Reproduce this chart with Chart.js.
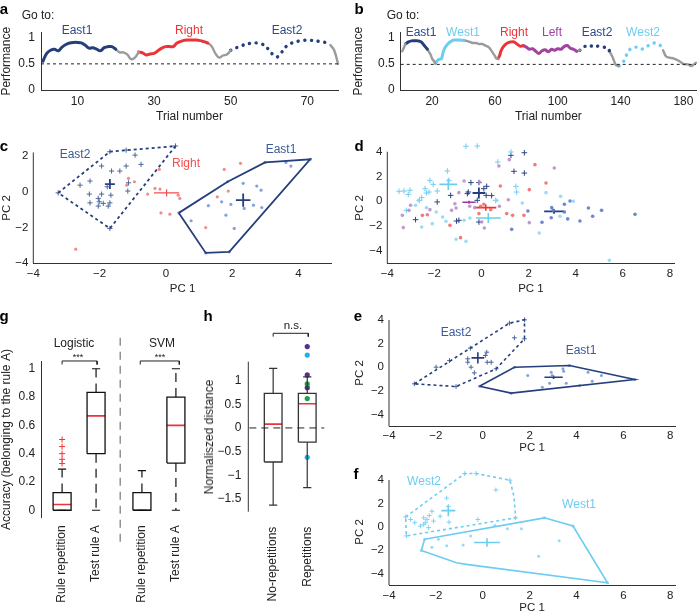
<!DOCTYPE html>
<html>
<head>
<meta charset="utf-8">
<script src="https://cdn.jsdelivr.net/npm/chart.js@4/dist/chart.umd.min.js"></script>
<style>
  body { margin: 0; background: #fff; }
  #fig { position: relative; width: 698px; height: 614px; overflow: hidden; font-family: 'Liberation Sans', Arial, sans-serif; color: #222; }
  #fig canvas { position: absolute; }
  .t { position: absolute; white-space: nowrap; font-size: 12px; line-height: 1; transform: translate(-50%, -50%); }
</style>
</head>
<body>
<div id="fig"></div>
<script>
const FONT = "'Liberation Sans', Arial, sans-serif";
const fig = document.getElementById('fig');

// ---- panel a: performance per trial (trials 1..78)
const perfA = [0.55,0.70,0.76,0.78,0.75,0.82,0.87,0.90,0.91,0.91,
  0.90,0.86,0.80,0.81,0.78,0.75,0.81,0.83,0.83,0.78,
  0.72,0.72,0.68,0.59,0.62,0.73,0.71,0.67,0.69,0.70,
  0.75,0.80,0.83,0.83,0.83,0.90,0.93,0.95,0.955,0.955,
  0.955,0.945,0.925,0.90,0.84,0.70,0.62,0.66,0.68,0.76,
  0.80,0.82,0.85,0.88,0.89,0.90,0.90,0.88,0.85,0.76,
  0.68,0.63,0.69,0.80,0.86,0.90,0.92,0.94,0.95,0.955,
  0.95,0.94,0.93,0.92,0.90,0.86,0.76,0.50];
const rulesA = [['East1',1,20],['gap',20,26],['Right',26,44],['gap',44,50],['East2',50,76],['gap',76,78]];
const ticksAX = [10, 30, 50, 70];

// ---- panel b
const trialsB = [1,3,5,7,9,11,13,15,17,18,19,20,21,22,23,24,25,26,27,28,30,32,34,37,40,42,44,46,48,50,
  52,54,56,58,60,61,62,63,64,66,68,70,72,74,76,77,78,80,82,84,86,88,90,92,94,96,98,100,102,104,
  106,108,110,112,114,116,118,120,123,126,129,132,133,135,137,139,141,143,145,147,150,153,156,159,162,165,167,169,171,174,
  177,180,183,185,188];
const perfB = [0.74,0.88,0.92,0.94,0.94,0.94,0.92,0.85,0.78,0.73,0.68,0.60,0.56,0.51,0.55,0.58,0.59,0.60,0.72,0.80,
  0.88,0.93,0.955,0.955,0.95,0.94,0.92,0.90,0.90,0.88,0.88,0.85,0.82,0.74,0.65,0.60,0.60,0.66,0.76,0.85,
  0.90,0.92,0.92,0.88,0.84,0.84,0.85,0.82,0.78,0.79,0.74,0.70,0.75,0.77,0.73,0.78,0.76,0.79,0.78,0.83,
  0.85,0.80,0.78,0.74,0.76,0.82,0.84,0.86,0.82,0.84,0.82,0.80,0.74,0.62,0.48,0.46,0.50,0.62,0.74,0.80,
  0.82,0.78,0.82,0.87,0.90,0.86,0.76,0.64,0.62,0.60,0.56,0.50,0.49,0.46,0.52];
const rulesB = [['gap',1,3],['East1',3,17],['gap',17,22],['West1',22,40],['gap',40,62],['Right',62,78],['Left',78,112],
  ['gap',112,114],['East2',114,133],['gap',133,139],['West2',139,167],['gap',167,188]];
const ticksBX = [20, 60, 100, 140, 180];

// ---- panel c (PC1, PC2)
const cEast2 = [[-1.69,2.24],[-1.20,2.33],[-0.93,2.05],[-1.94,1.44],[-1.20,1.44],[-0.75,1.53],[-1.64,1.16],[-1.39,1.16],
  [-2.29,0.60],[-2.59,0.37],[-1.13,0.50],[-1.77,0.28],[-1.15,0.04],[-2.31,-0.13],[-1.94,-0.13],[-2.04,-0.37],[-1.66,-0.19],
  [-2.01,-0.56],[-2.29,-0.62],[-1.89,-0.65],[-1.69,-0.62],[-2.04,-0.80],[-1.74,-0.80],[-3.25,-0.06],[-1.69,-2.05],[0.29,2.56]];
const cEast2Hull = [[-3.25,-0.06],[-1.69,2.24],[0.29,2.56],[-1.69,-2.05]];
const cEast2Mean = [-1.69, 0.43, 0.15, 0.28];
const cRight = [[2.25,1.59],[1.76,1.25],[-0.20,1.25],[-1.13,0.75],[-0.95,0.56],[-1.18,0.37],[-0.33,0.19],[-0.18,0.15],
  [1.88,0.04],[-0.55,-0.13],[0.37,-0.19],[0.42,-0.37],[1.55,-0.28],[-0.15,-1.18],[0.12,-1.25],[1.20,-2.00],[-2.72,-3.21]];
const cRightMean = [0.02, -0.06, 0.38, 0.2];
const cEast1 = [[2.33,0.47],[2.74,0.32],[2.87,0.09],[3.62,1.64],[3.77,1.44],[4.35,1.81],[2.99,1.64],[1.86,0.56],[1.68,-0.56],
  [1.96,-0.71],[1.28,-0.78],[2.36,-0.93],[2.64,-0.75],[2.89,-0.88],[1.81,-1.31],[0.76,-1.62],[2.06,-2.05],[0.39,-1.18],[1.20,-3.42],[1.91,-3.36]];
const cEast1Hull = [[0.39,-1.18],[1.86,0.56],[2.99,1.64],[4.35,1.81],[1.91,-3.36],[1.20,-3.42]];
const cEast1Mean = [2.33, -0.47, 0.22, 0.37];

// ---- panel d
const dEast2 = [[1.25,3.71],[1.82,3.92],[1.38,2.42],[1.82,2.28],[-0.45,1.51],[-0.11,1.51],[0.22,1.21],[0.10,1.02],[-0.56,0.75],
  [-0.60,0.62],[0.20,0.48],[0.43,0.46],[-1.31,0.48],[-1.88,-0.05],[-0.18,0.08],[-2.80,-1.48],[-1.06,-1.59],[-0.96,-1.53],[-0.11,-1.67]];
const dEast2Mean = [-0.11, 0.67, 0.27, 0.45];
const dEast1 = [[1.97,-0.78],[2.57,-1.69],[2.98,-0.51],[3.05,-0.73],[3.52,-0.24],[3.52,-0.86],[3.66,-1.42],[3.76,0.03],
  [4.18,-1.59],[4.54,-0.54],[4.72,-1.21],[5.10,-0.73],[6.52,-1.05],[2.96,-1.32],[1.28,-2.26]];
const dEast1Mean = [3.08, -0.81, 0.42, 0.2];
const dRight = [[2.27,2.96],[2.74,1.48],[0.80,1.24],[2.03,0.94],[1.07,-0.99],[1.32,-1.13],[1.80,-1.13],[-1.34,-1.94],
  [-0.89,-2.93],[-0.11,-0.99],[0.10,-0.24],[-2.51,-1.13],[-2.30,-1.08],[-0.04,-0.40],[0.39,-0.67]];
const dRightMean = [0.18, -0.51, 0.45, 0.25];
const dLeft = [[1.18,3.36],[0.74,2.85],[3.09,2.69],[-0.74,1.64],[-0.09,1.56],[-0.96,0.70],[-1.13,-0.19],[-1.27,-0.73],
  [-1.08,-0.54],[0.01,-1.67],[0.12,-2.15],[1.14,0.13],[0.76,-0.40],[2.03,-1.72],[-3.36,-1.13],[-3.32,-2.12],[-3.08,-0.73],
  [-3.01,-0.32],[-2.19,-0.67],[-0.50,-0.40],[-0.29,-0.51]];
const dLeftMean = [-0.53, -0.08, 0.28, 0.12];
const dWest2 = [[-0.66,4.44],[-0.18,4.46],[0.69,3.17],[1.25,3.98],[-1.45,2.45],[-1.38,1.69],[1.46,1.21],[1.49,0.75],
  [-2.19,1.69],[-2.05,1.37],[-2.40,1.02],[-2.34,0.67],[-2.23,0.75],[-2.63,0.08],[-2.54,0.30],[-3.50,0.81],[-3.29,0.83],
  [-3.04,0.89],[-3.11,0.56],[-3.19,-0.73],[-1.88,0.83],[0.60,0.08]];
const dWest2Mean = [-1.41, 1.37, 0.38, 0.45];
const dWest1 = [[-1.65,-1.26],[-1.51,-1.61],[-1.08,-3.06],[-0.66,-3.23],[-0.74,-1.53],[0.64,0.08],[2.74,0.70],[3.36,0.40],
  [3.90,0],[1.73,-0.13],[2.45,-2.55],[5.43,-4.76],[3.33,-1.21],[-0.49,-1.34],[-2.54,-2.07],[-2.09,-1.80],[-2.68,0.08],
  [-2.80,-0.32],[-1.92,-0.86],[-2.34,-0.51]];
const dWest1Mean = [0.29, -1.34, 0.53, 0.4];

// ---- panel e
const eEast2 = [[-2.92,-1.41],[-1.99,0],[-1.42,0.56],[-0.53,1.61],[-0.64,0.71],[-0.64,0.42],[0.17,1.27],[0.11,0.99],
  [0.19,0.42],[0.36,0.42],[-0.50,0],[-0.36,-0.48],[1.35,2.49],[0.57,-0.14],[-1.14,-1.64],[1.14,3.73],[1.78,4.01],[1.78,2.40]];
const eEast2Hull = [[-2.92,-1.41],[1.14,3.73],[1.78,4.01],[1.78,2.40],[0.57,-0.14],[-1.14,-1.64]];
const eEast2Mean = [-0.21, 0.79, 0.27, 0.47];
const eEast1 = [[1.92,-0.71],[2.92,-0.42],[2.96,-0.71],[3.42,-0.14],[3.45,-0.34],[3.56,-1.36],[2.54,-1.69],[4.13,-1.55],
  [4.49,-0.42],[4.67,-1.19],[5.06,-0.71],[6.48,-1.05],[2.85,-1.36],[-0.14,-1.61],[1.35,0],[3.70,0.14],[1.21,-2.20]];
const eEast1Hull = [[-0.14,-1.61],[1.35,0],[3.70,0.14],[6.48,-1.05],[1.21,-2.20]];
const eEast1Mean = [3.02, -0.85, 0.39, 0.15];

// ---- panel f
const fWest2 = [[-3.29,0.84],[-3.26,-0.79],[-3.08,0.62],[-2.52,0.76],[-2.45,0.34],[-2.38,0.62],[-2.28,0.96],[-2.17,1.32],
  [-2.52,0.2],[-2.66,0.06],[-2.31,-0.08],[-1.54,2.45],[-1.47,1.74],[-1.44,0.39],[-2.10,0.48],[-0.21,0.62],[0.56,3.15],
  [-0.77,4.56],[-0.28,4.56],[-2.90,0.34],[-1.82,0.90],[1.16,3.99],[1.40,0.76]];
const fWest2Hull = [[-3.29,0.84],[-0.77,4.56],[-0.28,4.56],[1.16,3.99],[1.33,2.59],[1.40,0.76],[-3.26,-0.79]];
const fWest2Mean = [-1.47, 1.38, 0.3, 0.49];
const fWest1 = [[-2.17,-1.77],[-1.89,-1.07],[-1.54,-1.63],[-0.84,-1.58],[-0.52,-0.79],[0.52,0.11],[1.05,-0.17],[1.65,-0.17],
  [2.38,-2.53],[3.26,-1.21],[-2.48,-1.07],[-2.62,-2.05],[2.63,0.76],[3.85,0.06],[5.32,-4.81]];
const fWest1Hull = [[-2.48,-1.07],[2.63,0.76],[3.85,0.06],[5.32,-4.81],[-0.70,-3.23],[-1.12,-3.09],[-2.62,-2.05]];
const fWest1Mean = [0.18, -1.35, 0.55, 0.37];

// ---- panel g (box plots)
const posG = [1, 2, 3.35, 4.35];
const labelsG = ['Rule repetition', 'Test rule A', 'Rule repetition', 'Test rule A'];
const lowG = [0, 0, 0, 0];
const q1G = [0, 0.4, 0, 0.333];
const medG = [0.04, 0.667, 0, 0.6];
const q3G = [0.125, 0.833, 0.125, 0.8];
const highG = [0.29, 1, 0.28, 1];
const outliersG = [[1,0.33],[1,0.36],[1,0.40],[1,0.45],[1,0.50]];

// ---- panel h
const posH = [1, 2];
const labelsH = ['No-repetitions', 'Repetitions'];
const lowH = [-1.63, -1.26];
const q1H = [-0.72, -0.30];
const medH = [0.08, 0.51];
const q3H = [0.73, 0.73];
const highH = [1.26, 1.08];
const dotsH = [[2,1.72,'#5b2d90'],[2,1.54,'#1db3ea'],[2,1.12,'#5b2d90'],[2,0.93,'#1f9e4b'],[2,0.85,'#5b2d90'],[2,0.62,'#1f9e4b'],[2,-0.62,'#1db3ea']];

// ---- text: [text, centre x, centre y, colour, size, bold, rotated]
const notes = [
  ['a',4,8,'#000',15,true], ['b',359,8,'#000',15,true], ['c',4,145,'#000',15,true], ['d',359,145,'#000',15,true],
  ['g',4,315,'#000',15,true], ['h',208,315,'#000',15,true], ['e',358,315,'#000',15,true], ['f',356,473,'#000',15,true],
  ['Go to:',38,15,'#222',12], ['East1',77,30,'#2b4a8c',12], ['Right',189,30,'#ee3338',12], ['East2',287,30,'#2b4a8c',12],
  ['Go to:',403,15,'#222',12], ['East1',421,32,'#2b4a8c',12], ['West1',463,32,'#6ccdf0',12], ['Right',514,32,'#ee3338',12],
  ['Left',552,32,'#a1449f',12], ['East2',597,32,'#2b4a8c',12], ['West2',643,32,'#6ccdf0',12],
  ['East2',75,154,'#3a5a9a',12], ['Right',186,163,'#f05050',12], ['East1',281,149,'#3a5a9a',12],
  ['East2',456,332,'#3a5a9a',12], ['East1',581,350,'#3a5a9a',12],
  ['West2',424,481,'#6ccdf0',12], ['West1',579,504,'#6ccdf0',12],
  ['Logistic',74,343,'#222',12], ['SVM',162,343,'#222',12], ['***',78,357,'#222',9], ['***',160,357,'#222',9],
  ['n.s.',293,326,'#222',11.5],
  ['PC 2',7,208,'#222',11.5,false,true], ['PC 2',360,207.5,'#222',11.5,false,true], ['PC 2',360,373,'#222',11.5,false,true],
  ['PC 2',360,531.6,'#222',11.5,false,true], ['Normaliszed distance',209,436.7,'#222',12,false,true]
];

const colors = {East1:'#253e7c', East2:'#253e7c', Right:'#ee3338', Left:'#a1449f', West1:'#6ccdf0', West2:'#6ccdf0', gap:'#9b9b9b'};
const dotted = ['East2', 'West2'];
const GAP = {x: NaN, y: NaN};

const pts = arr => arr.map(([x, y]) => ({x, y}));
const closed = arr => pts(arr.concat([arr[0]]));
const cross = m => [{x: m[0]-m[2], y: m[1]}, {x: m[0]+m[2], y: m[1]}, GAP, {x: m[0], y: m[1]-m[3]}, {x: m[0], y: m[1]+m[3]}];

function lineSet(data, color, width, dash) {
  return {data, showLine: true, borderColor: color, borderWidth: width, borderDash: dash || [],
    pointRadius: 0, spanGaps: false, clip: false, tension: 0};
}
function markSet(arr, color, style, r) {
  return {data: pts(arr), showLine: false, pointStyle: style, pointRadius: r, borderColor: color,
    backgroundColor: color, pointBorderWidth: style === 'cross' ? 1 : 0, clip: false};
}
// y axis line drawn as a dataset where the scale is taller than the visible axis
const yLine = (x, lo, hi) => lineSet(pts([[x, lo], [x, hi]]), '#333', 1);

function perfSets(xs, ys, rules) {
  return rules.map(([rule, from, to]) => {
    const data = [];
    xs.forEach((x, i) => { if (x >= from && x <= to) data.push({x, y: ys[i]}); });
    const dot = dotted.includes(rule);
    return {data, showLine: true, borderColor: colors[rule], borderWidth: dot ? 3.4 : (rule === 'gap' ? 2.4 : 3),
      borderDash: dot ? [0.1, 6.6] : [], borderCapStyle: 'round', pointRadius: 0, tension: 0.4, clip: false};
  });
}
function boxSets(pos, lo, q1, med, q3, hi, hw, cw, color, whDash) {
  const box = [], meds = [], wh = [], caps = [];
  pos.forEach((p, i) => {
    box.push({x: p-hw, y: q1[i]}, {x: p+hw, y: q1[i]}, {x: p+hw, y: q3[i]}, {x: p-hw, y: q3[i]}, {x: p-hw, y: q1[i]}, GAP);
    meds.push({x: p-hw, y: med[i]}, {x: p+hw, y: med[i]}, GAP);
    wh.push({x: p, y: q3[i]}, {x: p, y: hi[i]}, GAP, {x: p, y: q1[i]}, {x: p, y: lo[i]}, GAP);
    caps.push({x: p-cw, y: hi[i]}, {x: p+cw, y: hi[i]}, GAP, {x: p-cw, y: lo[i]}, {x: p+cw, y: lo[i]}, GAP);
  });
  return [lineSet(wh, color, 1.2, whDash), lineSet(caps, color, 1.2), lineSet(box, color, 1.3), lineSet(meds, '#ee3338', 1.6)];
}

function scale(min, max, ticks, fixed, o = {}) {
  return {
    type: 'linear', min, max,
    afterBuildTicks: s => { s.ticks = ticks.map(v => ({value: v})); },
    afterFit: s => { if (s.isHorizontal()) s.height = fixed; else s.width = fixed; },
    grid: {display: false, drawTicks: false},
    border: {display: o.border !== false, color: '#333', width: 1},
    ticks: {color: '#222', padding: o.pad ?? 4, autoSkip: false, maxRotation: o.rot || 0, minRotation: o.rot || 0,
      font: {family: FONT, size: o.size || 11.5},
      callback: o.cb || (v => String(v).replace('-', '\u2212'))},
    title: o.title ? {display: true, text: o.title, color: '#222', padding: o.tpad,
      font: {family: FONT, size: o.tsize || 12, lineHeight: 1}} : {display: false}
  };
}

function chart(box, datasets, x, y, padding) {
  const c = document.createElement('canvas');
  c.width = box[2]; c.height = box[3];
  Object.assign(c.style, {left: box[0] + 'px', top: box[1] + 'px', width: box[2] + 'px', height: box[3] + 'px'});
  fig.appendChild(c);
  return new Chart(c, {
    type: 'scatter',
    data: {datasets},
    options: {
      responsive: false, animation: false, events: [],
      layout: {padding},
      plugins: {legend: {display: false}, tooltip: {enabled: false}},
      scales: {x: Object.assign({position: 'bottom'}, x), y: Object.assign({position: 'left'}, y)}
    }
  });
}

// a
const trialsA = perfA.map((v, i) => i + 1);
chart([0, 0, 345, 125],
  [lineSet(pts([[0.5, 0.5], [78, 0.5]]), '#222', 1, [3, 3])].concat(perfSets(trialsA, perfA, rulesA)),
  scale(0.5, 78, ticksAX, 35, {title: 'Trial number', tpad: {top: 0, bottom: 2.3}, size: 12}),
  scale(0, 1.1, [0, 0.5, 1], 41, {title: 'Performance', tpad: {top: 1, bottom: 0}, pad: 6, size: 12}),
  {left: 0, top: 32.5, right: 7, bottom: 0});

// b
chart([349, 0, 349, 125],
  [lineSet(pts([[0, 0.49], [188, 0.49]]), '#222', 1, [3, 3])].concat(perfSets(trialsB, perfB, rulesB)),
  scale(0, 188, ticksBX, 35, {title: 'Trial number', tpad: {top: 0, bottom: 2.3}, size: 12}),
  scale(0, 1.1, [0, 0.5, 1], 51.7, {title: 'Performance', tpad: {top: 4, bottom: 0}, pad: 6, size: 12}),
  {left: 0, top: 32.5, right: 2, bottom: 0});

// c
const pcx = [-4, -2, 0, 2, 4, 6, 8];
const pcy = [-4, -2, 0, 2, 4];
chart([0, 130, 345, 170], [
    yLine(-4, -4, 2.2),
    lineSet(closed(cEast2Hull), '#253e7c', 1.8, [3, 3]),
    lineSet(closed(cEast1Hull), '#253e7c', 1.8),
    markSet(cEast2, '#4b679f', 'cross', 2.6),
    markSet(cRight, 'rgba(240,110,110,0.8)', 'circle', 1.6),
    markSet(cEast1, 'rgba(110,145,215,0.85)', 'circle', 1.6),
    lineSet(cross(cEast2Mean), '#253e7c', 1.8),
    lineSet(cross(cRightMean), '#f05050', 1.2),
    lineSet(cross(cEast1Mean), '#253e7c', 1.8)],
  scale(-4, 5, [-4, -2, 0, 2, 4], 36.7, {title: 'PC 1', tpad: {top: 0, bottom: 5.9}, tsize: 11.5}),
  scale(-4, 2.7, [-4, -2, 0, 2], 33.3, {border: false, pad: 5}),
  {left: 0, top: 13.5, right: 13.3, bottom: 0});

// d
chart([349, 130, 349, 170], [
    yLine(-4, -5, 4),
    markSet(dWest1, 'rgba(140,214,242,0.85)', 'circle', 1.8),
    markSet(dLeft, 'rgba(185,135,200,0.85)', 'circle', 1.8),
    markSet(dRight, 'rgba(240,90,90,0.8)', 'circle', 1.8),
    markSet(dEast1, 'rgba(90,125,198,0.9)', 'circle', 1.8),
    markSet(dWest2, '#74cdf0', 'cross', 2.8),
    markSet(dEast2, '#2c4480', 'cross', 2.8),
    lineSet(cross(dWest1Mean), '#6ccdf0', 1.6),
    lineSet(cross(dLeftMean), '#9b3aa0', 1.6),
    lineSet(cross(dRightMean), '#ee3338', 1.6),
    lineSet(cross(dWest2Mean), '#6ccdf0', 1.6),
    lineSet(cross(dEast2Mean), '#253e7c', 1.8),
    lineSet(cross(dEast1Mean), '#253e7c', 1.8)],
  scale(-4, 8.2, pcx, 36.7, {title: 'PC 1', tpad: {top: 0, bottom: 5.9}, tsize: 11.5}),
  scale(-5, 4.6, pcy, 38.3, {border: false, pad: 5}),
  {left: 0, top: 14.3, right: 23.4, bottom: 0});

// e
chart([349, 305, 349, 150], [
    yLine(-4, -5, 4),
    lineSet(closed(eEast2Hull), '#253e7c', 1.6, [3, 3]),
    lineSet(closed(eEast1Hull), '#253e7c', 1.6),
    markSet(eEast2, '#4b679f', 'cross', 2.4),
    markSet(eEast1, 'rgba(110,145,215,0.85)', 'circle', 1.5),
    lineSet(cross(eEast2Mean), '#253e7c', 1.6),
    lineSet(cross(eEast1Mean), '#253e7c', 1.6)],
  scale(-4, 8.2, pcx, 28.8, {title: 'PC 1', tpad: {top: 0, bottom: 1}, tsize: 11.5, pad: 3}),
  scale(-5, 4.2, pcy, 40, {border: false, pad: 5}),
  {left: 0, top: 12.6, right: 23, bottom: 0});

// f
chart([349, 460, 349, 154], [
    yLine(-4, -5, 4),
    lineSet(closed(fWest2Hull), '#6ccdf0', 1.6, [3, 3]),
    lineSet(closed(fWest1Hull), '#6ccdf0', 1.6),
    markSet(fWest2, '#7fd2f2', 'cross', 2.4),
    markSet(fWest1, 'rgba(140,214,242,0.9)', 'circle', 1.5),
    lineSet(cross(fWest2Mean), '#6ccdf0', 1.6),
    lineSet(cross(fWest1Mean), '#6ccdf0', 1.6)],
  scale(-4, 8.2, pcx, 29, {title: 'PC 1', tpad: {top: 0, bottom: 0}, tsize: 11.5, pad: 4}),
  scale(-5, 4.7, pcy, 40, {border: false, pad: 5}),
  {left: 0, top: 10, right: 23, bottom: 0});

// g
chart([0, 305, 205, 309],
  boxSets(posG, lowG, q1G, medG, q3G, highG, 0.265, 0.12, '#111', [9, 6]).concat([
    markSet(outliersG, '#ee3338', 'cross', 3),
    lineSet(pts([[2.71, 1.22], [2.71, -0.24]]), '#777', 1.2, [8, 6]),
    lineSet([{x: 1, y: 1.03}, {x: 1, y: 1.055}, {x: 2.03, y: 1.055}, {x: 2.03, y: 1.03}], '#222', 1),
    lineSet([{x: 3.3, y: 1.03}, {x: 3.3, y: 1.055}, {x: 4.45, y: 1.055}, {x: 4.45, y: 1.03}], '#222', 1)]),
  scale(0.4, 5, posG, 96.7, {border: false, rot: 90, pad: 8, size: 12, cb: (v, i) => labelsG[i]}),
  scale(-0.05, 1.05, [0, 0.2, 0.4, 0.6, 0.8, 1], 41.7,
    {title: 'Accuracy (belonging to the rule A)', tpad: {top: 0.7, bottom: 0}, pad: 6.5, size: 12}),
  {left: 0, top: 56.7, right: 7, bottom: 0});

// h
chart([200, 305, 140, 309],
  [yLine(0.27, -1.77, 1.4), lineSet(pts([[0.3, 0], [2.5, 0]]), '#222', 1, [7, 5])]
    .concat(boxSets(posH, lowH, q1H, medH, q3H, highH, 0.26, 0.12, '#333'))
    .concat(dotsH.map(([x, y, c]) => markSet([[x, y]], c, 'circle', 2.6)))
    .concat([lineSet([{x: 1, y: 1.93}, {x: 1, y: 2.0}, {x: 2.03, y: 2.0}, {x: 2.03, y: 1.93}], '#222', 1)]),
  scale(0.27, 2.5, posH, 102.3, {border: false, rot: 90, pad: 15, size: 12, cb: (v, i) => labelsH[i]}),
  scale(-1.77, 1.85, [-1.5, -1, -0.5, 0, 0.5, 1], 48.3, {border: false, pad: 7, size: 12}),
  {left: 0, top: 35.4, right: 15, bottom: 0});

for (const [text, cx, cy, color, size, bold, rot] of notes) {
  const d = document.createElement('div');
  d.className = 't';
  d.textContent = text;
  Object.assign(d.style, {left: cx + 'px', top: cy + 'px', color, fontSize: size + 'px', fontWeight: bold ? 'bold' : 'normal'});
  if (rot) d.style.transform = 'translate(-50%, -50%) rotate(-90deg)';
  fig.appendChild(d);
}
</script>
</body>
</html>
